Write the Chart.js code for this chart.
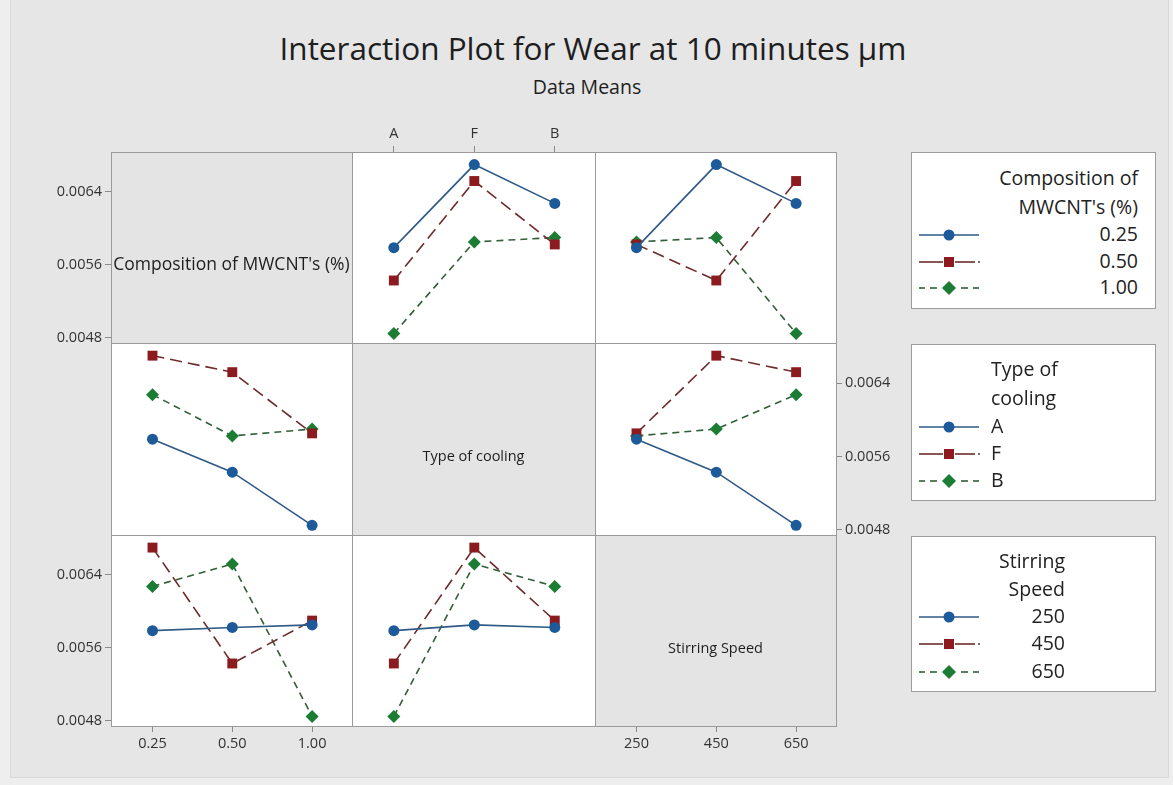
<!DOCTYPE html>
<html>
<head>
<meta charset="utf-8">
<title>Interaction Plot for Wear at 10 minutes µm</title>
<script src="https://cdn.jsdelivr.net/npm/chart.js@4.4.1/dist/chart.umd.min.js"></script>
<style>
  html, body { margin: 0; padding: 0; }
  body { width: 1173px; height: 785px; background: #eeeeee; position: relative; overflow: hidden;
         font-family: "Open Sans", "Noto Sans", sans-serif; color: #1e1e1e; }
  #frame { position: absolute; left: 10px; top: -1px; width: 1159px; height: 779px;
           background: #e6e6e6; border: 1px solid #d8d8d8; box-sizing: border-box; }
  canvas.panel { position: absolute; left: 0; top: 0; pointer-events: none; }
  .title { position: absolute; width: 800px; text-align: center; white-space: nowrap; }
  .legend { position: absolute; left: 911px; width: 245px; background: #fff;
            border: 1px solid #9c9c9c; box-sizing: border-box; }
  .ltxt { position: absolute; font-size: 19.5px; line-height: 26px; white-space: nowrap; color: #222; }
  .lsym { position: absolute; left: 7px; }
</style>
</head>
<body>
<div id="frame"></div>
<div class="title" style="left:193px;top:27px;font-size:31.5px;line-height:42px;">Interaction Plot for Wear at 10 minutes µm</div>
<div class="title" style="left:187px;top:73px;font-size:19.5px;line-height:28px;">Data Means</div>
<div id="charts"></div>
<div id="legends"></div>

<script>
// ---- Factor levels ----
const compositionLevels = ['0.25', '0.50', '1.00'];
const coolingLevels = ['A', 'F', 'B'];
const speedLevels = ['250', '450', '650'];

// ---- Experimental runs (L9 layout): factor settings and measured wear (µm) ----
const runComposition = ['0.25', '0.25', '0.25', '0.50', '0.50', '0.50', '1.00', '1.00', '1.00'];
const runCooling     = ['A',    'F',    'B',    'A',    'F',    'B',    'A',    'F',    'B'];
const runSpeed       = ['250',  '450',  '650',  '450',  '650',  '250',  '650',  '250',  '450'];
const runWear        = [0.00579, 0.0067, 0.006275, 0.00543, 0.00652, 0.005825, 0.00485, 0.005853, 0.0059];

// ---- Response axis ticks ----
const wearTicks = [0.0048, 0.0056, 0.0064];

const factors = [
  { name: "Composition of MWCNT's (%)", legendTitle: ['Composition of', "MWCNT's (%)"], levels: compositionLevels, runs: runComposition },
  { name: 'Type of cooling', legendTitle: ['Type of', 'cooling'], levels: coolingLevels, runs: runCooling },
  { name: 'Stirring Speed', legendTitle: ['Stirring', 'Speed'], levels: speedLevels, runs: runSpeed }
];

// Series appearance (one per factor level)
const seriesStyles = [
  { color: '#1d5a9a', line: '#2f5a86', shape: 'circle',  radius: 5.5, dash: [] },
  { color: '#8c1b20', line: '#6f2b2b', shape: 'rect',    radius: 7,   dash: [12, 6] },
  { color: '#1b7c33', line: '#315f37', shape: 'rectRot', radius: 6.5, dash: [7, 5] }
];

// Panel grid geometry
const W = 1173, H = 785;
const colX = [111, 352, 595, 836];
const rowY = [152, 343, 535, 726];
const Y_MIN = 0.004745, Y_MAX = 0.006838;
const X_MIN = -0.52, X_MAX = 2.5;
const AXIS_W = 70, AXIS_H = 30;

const tickFont = { family: '"Open Sans", "Noto Sans", sans-serif', size: 14.5 };

// Mean response for runs where factor a = level la and factor b = level lb
function cellMean(fa, la, fb, lb) {
  let s = 0, n = 0;
  for (let i = 0; i < runWear.length; i++) {
    if (fa.runs[i] === la && fb.runs[i] === lb) { s += runWear[i]; n++; }
  }
  return n ? s / n : null;
}

const panelPlugin = {
  id: 'panelFrame',
  beforeDatasetsDraw(chart, args, opts) {
    const a = chart.chartArea, ctx = chart.ctx;
    ctx.save();
    ctx.fillStyle = opts.fill;
    ctx.fillRect(a.left, a.top, a.right - a.left, a.bottom - a.top);
    ctx.strokeStyle = '#9a9a9a';
    ctx.lineWidth = 1;
    ctx.strokeRect(Math.round(a.left) + 0.5, Math.round(a.top) + 0.5,
                   Math.round(a.right - a.left), Math.round(a.bottom - a.top));
    if (opts.label) {
      ctx.fillStyle = '#1e1e1e';
      ctx.font = opts.labelSize + 'px "Open Sans", "Noto Sans", sans-serif';
      ctx.textAlign = 'center';
      ctx.textBaseline = 'middle';
      ctx.fillText(opts.label, (a.left + a.right) / 2, (a.top + a.bottom) / 2 + 18);
    }
    ctx.restore();
  }
};

function xScale(levels, position, show) {
  return {
    type: 'linear', position: position, display: show, min: X_MIN, max: X_MAX,
    afterBuildTicks: s => { s.ticks = levels.map((_, i) => ({ value: i })); },
    afterFit: s => { s.height = show ? AXIS_H : 0; },
    ticks: { callback: v => levels[v], font: tickFont, color: '#333', padding: 3, maxRotation: 0, autoSkip: false },
    grid: { drawOnChartArea: false, drawTicks: true, tickLength: 6, tickColor: '#8a8a8a' },
    border: { display: false }
  };
}

function yScale(position, show) {
  return {
    type: 'linear', position: position, display: show, min: Y_MIN, max: Y_MAX,
    afterBuildTicks: s => { s.ticks = wearTicks.map(v => ({ value: v })); },
    afterFit: s => { s.width = show ? AXIS_W : 0; },
    ticks: { callback: v => v.toFixed(4), font: tickFont, color: '#333', padding: 3, autoSkip: false },
    grid: { drawOnChartArea: false, drawTicks: true, tickLength: 6, tickColor: '#8a8a8a' },
    border: { display: false }
  };
}

const holder = document.getElementById('charts');

for (let r = 0; r < 3; r++) {
  for (let c = 0; c < 3; c++) {
    const yLeft = (c === 0 && (r === 0 || r === 2));
    const yRight = (c === 2 && r === 1);
    const xTop = (r === 0 && c === 1);
    const xBottom = (r === 2 && (c === 0 || c === 2));
    const diag = r === c;

    const padding = {
      left: colX[c] - (yLeft ? AXIS_W : 0),
      right: W - colX[c + 1] - (yRight ? AXIS_W : 0),
      top: rowY[r] - (xTop ? AXIS_H : 0),
      bottom: H - rowY[r + 1] - (xBottom ? AXIS_H : 0)
    };

    const seriesF = factors[r], xF = factors[c];
    const datasets = diag ? [] : seriesF.levels.map((lv, s) => ({
      label: lv,
      data: xF.levels.map((xl, i) => ({ x: i, y: cellMean(seriesF, lv, xF, xl) })),
      borderColor: seriesStyles[s].line,
      borderWidth: 1.6,
      borderDash: seriesStyles[s].dash,
      backgroundColor: seriesStyles[s].color,
      pointBackgroundColor: seriesStyles[s].color,
      pointBorderColor: seriesStyles[s].color,
      pointBorderWidth: 0,
      pointStyle: seriesStyles[s].shape,
      pointRadius: seriesStyles[s].radius,
      tension: 0,
      fill: false
    }));

    const cv = document.createElement('canvas');
    cv.className = 'panel';
    cv.width = W; cv.height = H;
    cv.style.width = W + 'px'; cv.style.height = H + 'px';
    holder.appendChild(cv);

    const scales = {
      xb: xScale(xF.levels, xTop ? 'top' : 'bottom', xTop || xBottom),
      yb: yScale(yRight ? 'right' : 'left', yLeft || yRight)
    };
    datasets.forEach(d => { d.xAxisID = 'xb'; d.yAxisID = 'yb'; });

    new Chart(cv, {
      type: 'line',
      data: { datasets },
      options: {
        responsive: false,
        animation: false,
        devicePixelRatio: 1,
        layout: { padding, autoPadding: false },
        scales,
        plugins: {
          legend: { display: false },
          tooltip: { enabled: false },
          panelFrame: {
            fill: diag ? '#e4e4e4' : '#ffffff',
            label: diag ? seriesF.name : null,
            labelSize: r === 0 ? 17.5 : 14.5
          }
        }
      },
      plugins: [panelPlugin]
    });
  }
}

// ---- Legends ----
const legendBoxes = [
  { top: 152, height: 157, titleY: [178, 207], itemY: [234, 260.5, 286.5], align: 'right', edge: 1138 },
  { top: 344, height: 157, titleY: [369, 398], itemY: [426, 452.5, 480], align: 'left', edge: 991 },
  { top: 536, height: 156, titleY: [560.5, 588.5], itemY: [616, 643, 670.5], align: 'right', edge: 1065 }
];

function symbolSvg(s) {
  const st = seriesStyles[s];
  const cy = 8;
  let lines = '';
  if (s === 0) {
    lines = `<line x1="0" y1="${cy}" x2="60" y2="${cy}" stroke="${st.line}" stroke-width="1.6"/>`;
  } else if (s === 1) {
    lines = `<line x1="0" y1="${cy}" x2="24" y2="${cy}" stroke="${st.line}" stroke-width="1.6"/>` +
            `<line x1="36" y1="${cy}" x2="56" y2="${cy}" stroke="${st.line}" stroke-width="1.6"/>` +
            `<line x1="59" y1="${cy}" x2="61" y2="${cy}" stroke="${st.line}" stroke-width="1.6"/>`;
  } else {
    lines = `<line x1="0" y1="${cy}" x2="6" y2="${cy}" stroke="${st.line}" stroke-width="1.6"/>` +
            `<line x1="11" y1="${cy}" x2="18" y2="${cy}" stroke="${st.line}" stroke-width="1.6"/>` +
            `<line x1="42" y1="${cy}" x2="49" y2="${cy}" stroke="${st.line}" stroke-width="1.6"/>` +
            `<line x1="54" y1="${cy}" x2="60" y2="${cy}" stroke="${st.line}" stroke-width="1.6"/>`;
  }
  let mark;
  if (st.shape === 'circle') mark = `<circle cx="30" cy="${cy}" r="5.5" fill="${st.color}"/>`;
  else if (st.shape === 'rect') mark = `<rect x="25" y="${cy - 5}" width="10" height="10" fill="${st.color}"/>`;
  else mark = `<polygon points="30,${cy - 7} 37,${cy} 30,${cy + 7} 23,${cy}" fill="${st.color}"/>`;
  return `<svg width="62" height="16" viewBox="0 0 62 16">${lines}${mark}</svg>`;
}

const legHolder = document.getElementById('legends');
factors.forEach((f, k) => {
  const b = legendBoxes[k];
  const box = document.createElement('div');
  box.className = 'legend';
  box.style.top = b.top + 'px';
  box.style.height = b.height + 'px';
  legHolder.appendChild(box);

  const place = (text, cy) => {
    const t = document.createElement('div');
    t.className = 'ltxt';
    t.textContent = text;
    t.style.top = (cy - 13) + 'px';
    if (b.align === 'right') t.style.right = (W - b.edge) + 'px';
    else t.style.left = b.edge + 'px';
    legHolder.appendChild(t);
  };
  f.legendTitle.forEach((line, i) => place(line, b.titleY[i]));
  f.levels.forEach((lv, i) => {
    place(lv, b.itemY[i]);
    const sym = document.createElement('div');
    sym.className = 'lsym';
    sym.style.position = 'absolute';
    sym.style.left = '919px';
    sym.style.top = (b.itemY[i] - 8) + 'px';
    sym.innerHTML = symbolSvg(i);
    legHolder.appendChild(sym);
  });
});
</script>
</body>
</html>
